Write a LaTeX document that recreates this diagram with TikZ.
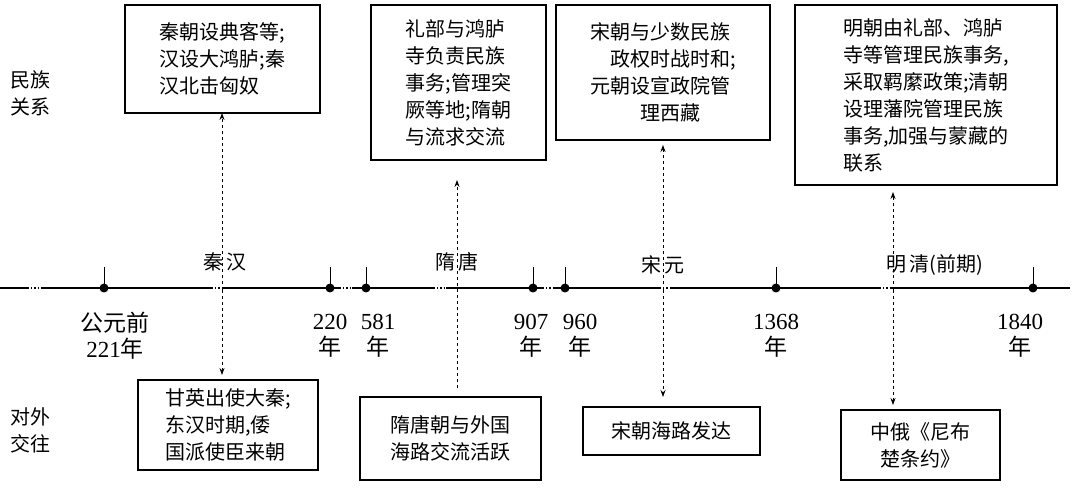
\documentclass[tikz,border=0pt]{standalone}
\usepackage{fontspec}
\usetikzlibrary{arrows.meta}
\setmainfont{Liberation Serif}
\newfontfamily\cjk{Noto Sans CJK SC}
\begin{document}
\begin{tikzpicture}[x=1pt,y=-1pt,
  box/.style={draw,line width=1.2pt,inner sep=0pt},
  txt/.style={font=\cjk\fontsize{20}{27}\selectfont,align=left,inner sep=0pt},
  yr/.style={font=\fontsize{23}{26}\selectfont,align=center,inner sep=0pt},
  darr/.style={dashed,line width=0.8pt,-{Stealth[length=7pt,width=5pt]}},
  dotm/.style={circle,fill,inner sep=0pt,minimum size=9pt}]
\useasboundingbox (0,0) rectangle (1080,497);
% axis
\draw[line width=1.5pt] (0,288) -- (1070,288);
\foreach \a/\b in {28/42,212/222,340/352,434/446,543/553,660/670,880/890}{
  \fill[white] (\a,286) rectangle (\b,290);
  \draw[dotted,line width=1.2pt] (\a,288) -- (\b,288);}
\foreach \n/\x in {t1/104,t2/330,t3/366,t4/533,t5/565,t6/776,t7/1033}{
  \node[dotm] (\n) at (\x,288) {};
  \draw[line width=1pt] (\x,267) -- (\n.center);}
% boxes
\node[box,minimum width=195pt,minimum height=108pt] (b1) at (222.5,59) {};
\node[txt] at (b1) {秦朝设典客等;\\汉设大鸿胪;秦\\汉北击匈奴};
\node[box,minimum width=175pt,minimum height=155pt] (b2) at (458.5,82.5) {};
\node[txt] at (b2) {礼部与鸿胪\\寺负责民族\\事务;管理突\\厥等地;隋朝\\与流求交流};
\node[box,minimum width=214pt,minimum height=135pt] (b3) at (663,72.5) {};
\node[txt] at (b3) {宋朝与少数民族\\\hspace*{1em}政权时战时和;\\元朝设宣政院管\\\hspace*{2.5em}理西藏};
\node[box,minimum width=262pt,minimum height=180pt] (b4) at (926,95) {};
\node[txt] at (b4) {明朝由礼部、鸿胪\\寺等管理民族事务,\\采取羁縻政策;清朝\\设理藩院管理民族\\事务,加强与蒙藏的\\联系};
\node[box,minimum width=180pt,minimum height=90pt] (b5) at (228,425) {};
\node[txt] at (b5) {甘英出使大秦;\\东汉时期,倭\\国派使臣来朝};
\node[box,minimum width=181pt,minimum height=83pt] (b6) at (450.5,438.5) {};
\node[txt] at (b6) {隋唐朝与外国\\海路交流活跃};
\node[box,minimum width=177pt,minimum height=48pt] (b7) at (671.5,431) {};
\node[txt] at (b7) {宋朝海路发达};
\node[box,minimum width=159pt,minimum height=70pt] (b8) at (920.5,445) {};
\node[txt] at (b8) {中俄《尼布\\\hspace*{0.5em}楚条约》};
% arrows
\coordinate (a1) at (222,290); \coordinate (a2) at (457,290);
\coordinate (a3) at (663,290); \coordinate (a4) at (893,290);
\coordinate (c1) at (222,113); \coordinate (c2) at (222,375);
\coordinate (c3) at (457,388); \coordinate (c4) at (457,180);
\coordinate (c5) at (663,145); \coordinate (c6) at (663,397);
\coordinate (c7) at (893,192); \coordinate (c8) at (893,405);
\draw[darr] (a1) -- (c1);
\draw[darr] (a1) -- (c2);
\draw[darr] (c3) -- (c4);
\draw[darr] (a3) -- (c5);
\draw[darr] (a3) -- (c6);
\draw[darr] (a4) -- (c7);
\draw[darr] (a4) -- (c8);
% labels
\node[txt] (l1) at (30,93) {民族\\关系};
\node[txt] (l2) at (30,430) {对外\\交往};
\node[txt] (e1) at (225,262) {秦\,汉};
\node[txt] (e2) at (457,262) {隋\,唐};
\node[txt] (e3) at (663,265) {宋\,元};
\node[txt] (e4) at (935,265) {明\,清(前期)};
\node[yr] (y1) at (115,336) {{\cjk 公元前}\\221{\cjk 年}};
\node[yr] (y2) at (330,336) {220\\{\cjk 年}};
\node[yr] (y3) at (378,336) {581\\{\cjk 年}};
\node[yr] (y4) at (531,336) {907\\{\cjk 年}};
\node[yr] (y5) at (580,336) {960\\{\cjk 年}};
\node[yr] (y6) at (776,336) {1368\\{\cjk 年}};
\node[yr] (y7) at (1020,336) {1840\\{\cjk 年}};
\end{tikzpicture}
\end{document}
